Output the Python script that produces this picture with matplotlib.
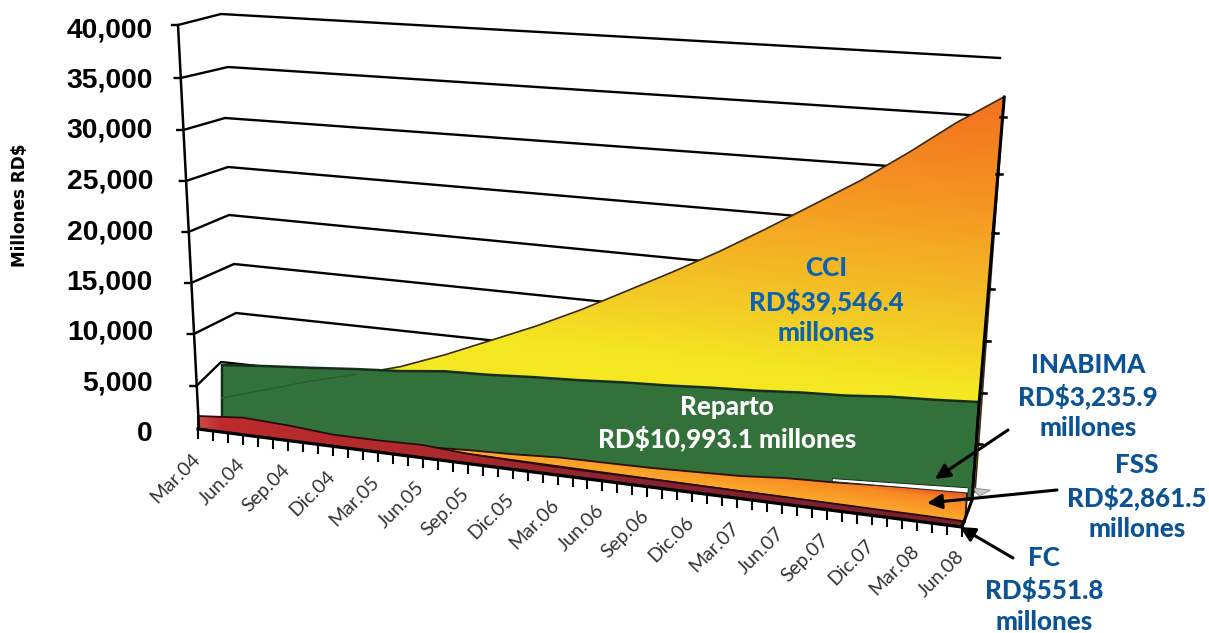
#!/usr/bin/env python3
"""Fondos de pensiones por cuenta: area chart in fake 3D perspective."""
import numpy as np
import matplotlib
matplotlib.use("Agg")
import matplotlib.pyplot as plt
from matplotlib.patches import Polygon

# data, RD$ millones
quarters = ["Mar.04", "Jun.04", "Sep.04", "Dic.04", "Mar.05", "Jun.05", "Sep.05", "Dic.05", "Mar.06",
            "Jun.06", "Sep.06", "Dic.06", "Mar.07", "Jun.07", "Sep.07", "Dic.07", "Mar.08", "Jun.08"]
y_ticks = [0, 5000, 10000, 15000, 20000, 25000, 30000, 35000, 40000]
cci = [1400, 2700, 4000, 5100, 6300, 7900, 9700, 11500, 13500,
       15700, 17900, 20200, 22700, 25300, 27900, 30800, 33900, 36600]
reparto = [6500, 6770, 6980, 7230, 7400, 7750, 7770, 7910, 7980,
           8130, 8190, 8330, 8400, 8580, 8640, 8880, 8940, 9070]
inabima = [0, 0, 0, 0, 0, 0, 0, 0, 0, 0, 0, 0, 0, 0, 280, 340, 410, 480]
fss = [0, 0, 0, 0, 0, 100, 380, 570, 860, 950, 1050, 1240, 1430, 1810, 2000, 2290, 2570, 2861]
fc = [1300, 1700, 1500, 1150, 1150, 1250, 950, 850, 780, 750, 750, 720, 700, 680, 650, 620, 600, 552]

# projection calibration (pixels of the 1209x633 figure)
U = np.arange(len(quarters)) / (len(quarters) - 1)
AXIS_L, AXIS_R = (198, 429), (962, 527)
LEFT_Y = [429, 386, 334, 283, 232, 181, 130, 78, 25]
KNOT_X = [222, 221, 236, 234, 229, 228, 225, 228, 221]
KNOT_Y = [410, 362, 313, 264, 215, 167, 118, 67, 14]
RIGHT_Y = [492, 444, 393, 341, 289, 233, 174, 117, 58]


def lerp(a, b, t):
    return a + (b - a) * t


def scale(u):
    return 0.0100 + 0.0008 * u


def project(values, base_l, base_r):
    v = np.asarray(values, dtype=float)
    bx = lerp(base_l[0], base_r[0], U)
    by = lerp(base_l[1], base_r[1], U)
    return bx, by, bx + v * 0.0008 * U, by - v * scale(U)


def layer(values, base_l, base_r):
    """Polygon of an area standing on its own floor line, dropping zero quarters."""
    bx, by, tx, ty = project(values, base_l, base_r)
    first = np.argmax(np.asarray(values) > 0)
    idx = np.arange(first, len(U))
    return np.r_[tx[idx], bx[idx][::-1]], np.r_[ty[idx], by[idx][::-1]]


def hex_rgb(c):
    return np.array(matplotlib.colors.to_rgb(c))


def gradient(ax, xs, ys, base_l, base_r, span, stops, colors, z, horizontal=False):
    x0, x1, y0, y1 = xs.min(), xs.max(), ys.min(), ys.max()
    gx, gy = np.meshgrid(np.linspace(x0, x1, 500), np.linspace(y0, y1, 400))
    if horizontal:
        t = (gx - AXIS_L[0]) / (AXIS_R[0] - AXIS_L[0])
    else:
        floor = np.interp(gx, [base_l[0], base_r[0]], [base_l[1], base_r[1]])
        t = (floor - gy) / span
    rgb = np.array([hex_rgb(c) for c in colors])
    img = np.dstack([np.interp(t, stops, rgb[:, k]) for k in range(3)])
    im = ax.imshow(img, extent=(x0, x1, y1, y0), aspect="auto", zorder=z, interpolation="bilinear")
    im.set_clip_path(Polygon(np.c_[xs, ys], closed=True, transform=ax.transData))


fig = plt.figure(figsize=(12.09, 6.33), dpi=100)
ax = fig.add_axes([0, 0, 1, 1])

# floors of each layer
CCI_BASE = ((222, 412), (975, 492))
REP_BASE = ((222, 430), (972, 500))
FSS_BASE = ((198, 417), (965, 522))
INA_BASE = ((198, 428), (968, 493))

# grid and left axis
for k, val in enumerate(y_ticks):
    frac = val / 40000
    lx = 199 - 21 * frac
    rx = min(975 + val * 0.0008, 1000)
    if val > 0:
        ax.plot([lx - 6, lx, KNOT_X[k], rx], [LEFT_Y[k], LEFT_Y[k], KNOT_Y[k], RIGHT_Y[k]],
                color="black", lw=1.7, zorder=1, solid_joinstyle="round")
    ax.text(153, 434 - 50.5 * k, f"{val:,}", ha="right", va="center", fontsize=20.3,
            fontweight="bold", family="Liberation Sans", color="black", zorder=9)
ax.plot([178, 199], [25, 429], color="black", lw=1.8, zorder=7)

# CCI
xs, ys = layer(cci, *CCI_BASE)
gradient(ax, xs, ys, *CCI_BASE, 395, [0.25, 0.4, 0.7, 1.0],
         ["#f5e822", "#f3cc26", "#f59a22", "#f3701f"], 2)
ax.add_patch(Polygon(np.c_[xs, ys], closed=True, fill=False, ec="#3a2a10", lw=1.2, zorder=2.5))
_, _, cx, cy = project(cci, *CCI_BASE)

# Reparto
xs, ys = layer(reparto, *REP_BASE)
ax.add_patch(Polygon(np.c_[xs, ys], closed=True, fc="#33713a", ec="#14301a", lw=1.8, zorder=3))
ax.plot(cx[:4], cy[:4], color="#285c30", lw=1, zorder=3.2)
_, _, rx, ry = project(reparto, *REP_BASE)

# FSS
xs, ys = layer(fss, *FSS_BASE)
gradient(ax, xs, ys, *FSS_BASE, 30, [0.1, 0.65, 1.0], ["#fba52a", "#f88a24", "#e84a20"], 4)
ax.add_patch(Polygon(np.c_[xs, ys], closed=True, fill=False, ec="#2a1008", lw=1.3, zorder=4.2))
_, _, sx, sy = project(fss, *FSS_BASE)
ax.add_patch(Polygon([(sx[-1] + 5, sy[-1] - 3), (sx[-1] + 23, sy[-1] - 1), (sx[-1] + 12, sy[-1] + 5)],
                     closed=True, fc="#c9c9c9", ec="#9a9a9a", lw=0.8, zorder=3.4))

# INABIMA
xs, ys = layer(inabima, *INA_BASE)
ax.add_patch(Polygon(np.c_[xs, ys], closed=True, fc="white", ec="#1a2a1a", lw=0.7, zorder=4.5))

# FC
xs, ys = layer(fc, AXIS_L, AXIS_R)
gradient(ax, xs, ys, AXIS_L, AXIS_R, 1, [0, 0.03, 0.3, 0.6, 1],
         ["#cf4a44", "#bd2a2c", "#ae2a2c", "#862330", "#7a1f2c"], 5, horizontal=True)
ax.add_patch(Polygon(np.c_[xs, ys], closed=True, fill=False, ec="#2a0a0c", lw=1.3, zorder=5.2))

# right hand edge and ticks
ax.plot([cx[-1], rx[-1], REP_BASE[1][0], AXIS_R[0]], [cy[-1], ry[-1], REP_BASE[1][1], AXIS_R[1]],
        color="black", lw=2.2, zorder=6, solid_capstyle="round")
for k, val in enumerate(y_ticks[1:-1], start=1):
    ex = 975 + val * 0.0008
    ax.plot([ex - 3, ex + 3], [RIGHT_Y[k]] * 2, color="black", lw=1.8, zorder=6)

# floor axis with one tick per month
n_months = 3 * (len(quarters) - 1) + 1
for m in range(n_months):
    t = m / (n_months - 1)
    tx, ty = lerp(AXIS_L[0], AXIS_R[0], t), lerp(AXIS_L[1], AXIS_R[1], t)
    ax.plot([tx, tx], [ty, ty + 9], color="black", lw=1.5, zorder=7)
ax.plot([AXIS_L[0], AXIS_R[0]], [AXIS_L[1], AXIS_R[1]], color="black", lw=2.3, zorder=7)

for u, name in zip(U, quarters):
    tx, ty = lerp(AXIS_L[0], AXIS_R[0], u), lerp(AXIS_L[1], AXIS_R[1], u)
    ax.text(tx + 5, ty + 21, name, rotation=45, ha="right", va="top", fontsize=14,
            family="Lato", color="#333333", zorder=9)

ax.text(20, 205, "Millones RD$", rotation=90, ha="center", va="center", fontsize=12.2,
        fontweight="bold", family="DejaVu Sans", color="black")

# labels
BLUE = "#0f62ac"
DARK_BLUE = "#0b5394"
labels = [
    (826, [268, 301, 333], ["CCI", "RD$39,546.4", "millones"], BLUE),
    (727, [407, 438], ["Reparto", "RD$10,993.1 millones"], "white"),
    (1088, [365, 396, 428], ["INABIMA", "RD$3,235.9", "millones"], DARK_BLUE),
    (1137, [465, 497, 529], ["FSS", "RD$2,861.5", "millones"], DARK_BLUE),
    (1044, [558, 590, 622], ["FC", "RD$551.8", "millones"], DARK_BLUE),
]
for x, rows, texts, col in labels:
    for y, s in zip(rows, texts):
        ax.text(x, y, s, ha="center", va="center", fontsize=18.7, fontweight=900,
                family="Lato", color=col, zorder=9)

# arrows
for tail, head in [((1008, 430), (935, 479)), ((1057, 490), (927, 503)), ((1013, 558), (960, 527))]:
    ax.annotate("", xy=head, xytext=tail, zorder=8,
                arrowprops=dict(arrowstyle="-|>", color="black", lw=2.2, mutation_scale=22,
                                shrinkA=0, shrinkB=0))

ax.set_xlim(0, 1209)
ax.set_ylim(633, 0)
ax.axis("off")
fig.savefig("out.png", dpi=100)
